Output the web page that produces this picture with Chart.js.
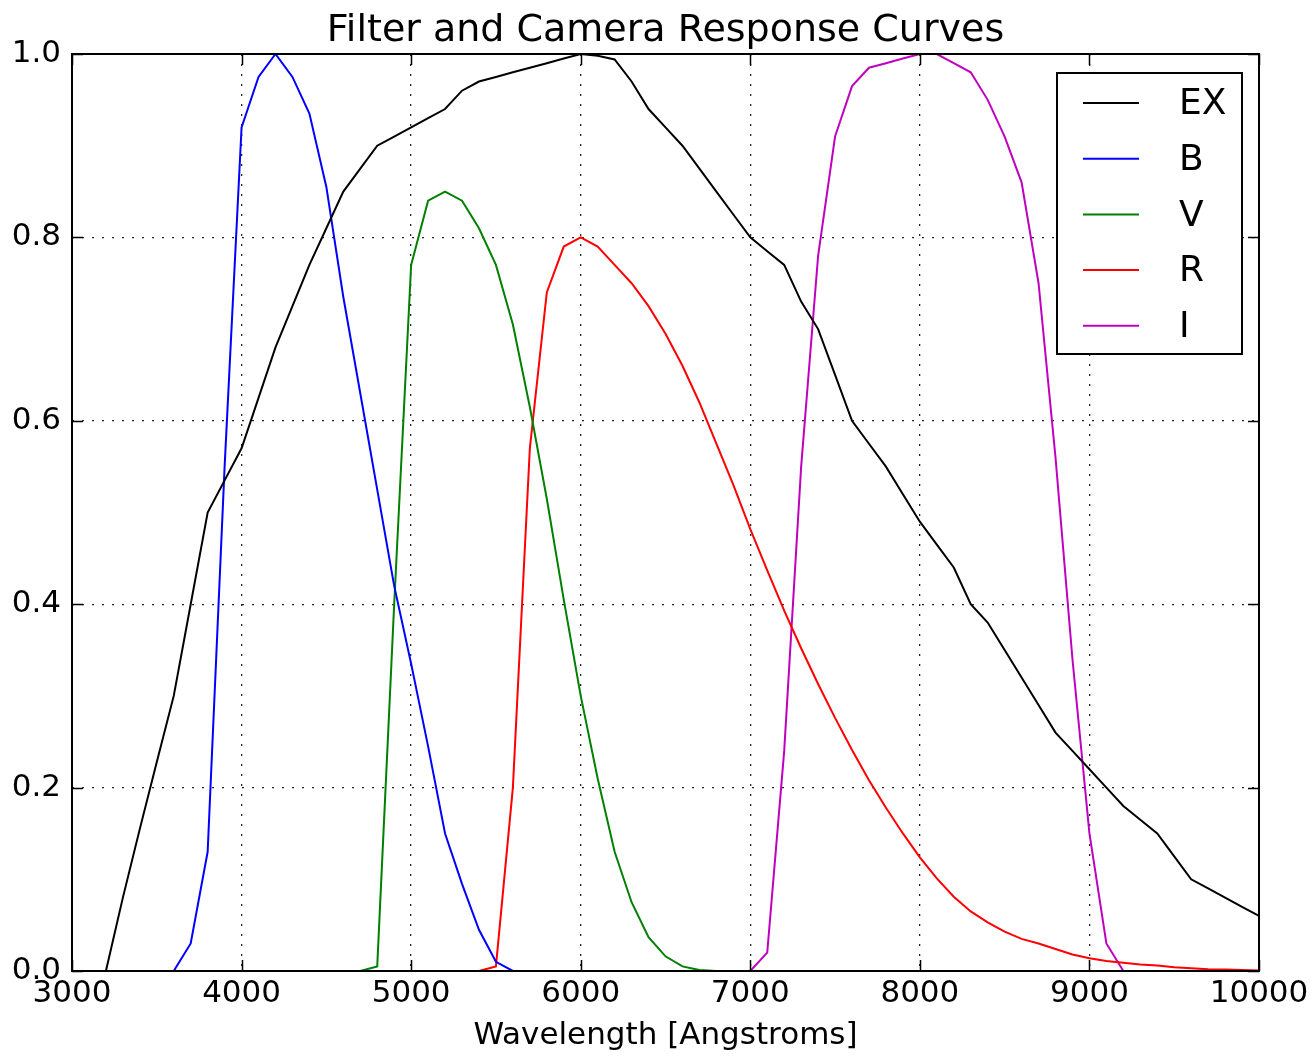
<!DOCTYPE html>
<html><head><meta charset="utf-8">
<script src="https://cdn.jsdelivr.net/npm/chart.js@4/dist/chart.umd.min.js"></script>
<style>html,body{margin:0;padding:0;background:#fff}canvas{display:block}</style>
</head><body>
<canvas id="c" width="1314" height="1056"></canvas>
<script>
// ---- data (wavelength in Angstroms, normalized response) ----
const exWave = [3200,3300,3400,3500,3600,3700,3800,3900,4000,4100,4200,4300,4400,4500,4600,4700,4800,4900,5000,5100,5200,5300,5400,5500,5600,5700,5800,5900,6000,6100,6200,6300,6400,6500,6600,6700,6800,6900,7000,7100,7200,7300,7400,7500,7600,7700,7800,7900,8000,8100,8200,8300,8400,8500,8600,8700,8800,8900,9000,9100,9200,9300,9400,9500,9600,9700,9800,9900,10000];
const exVals = [0,0.08,0.155,0.228,0.30,0.40,0.50,0.535,0.57,0.625,0.68,0.725,0.77,0.81,0.85,0.875,0.90,0.91,0.92,0.93,0.94,0.96,0.97,0.975,0.98,0.985,0.99,0.995,1.0,0.998,0.994,0.97,0.94,0.92,0.90,0.875,0.85,0.825,0.80,0.785,0.77,0.73,0.70,0.65,0.60,0.575,0.55,0.52,0.49,0.465,0.44,0.40,0.38,0.35,0.32,0.29,0.26,0.24,0.22,0.20,0.18,0.165,0.15,0.125,0.10,0.09,0.08,0.07,0.06];

const bWave = [3600,3700,3800,3900,4000,4100,4200,4300,4400,4500,4600,4700,4800,4900,5000,5100,5200,5300,5400,5500,5600];
const bVals = [0,0.03,0.13,0.55,0.92,0.975,1.0,0.975,0.935,0.855,0.735,0.63,0.525,0.42,0.335,0.245,0.15,0.095,0.045,0.01,0];

const vWave = [4700,4800,4900,5000,5100,5200,5300,5400,5500,5600,5700,5800,5900,6000,6100,6200,6300,6400,6500,6600,6700,6800];
const vVals = [0,0.005,0.40,0.77,0.84,0.85,0.84,0.81,0.77,0.705,0.615,0.515,0.405,0.30,0.21,0.13,0.075,0.037,0.016,0.005,0.001,0];

const rWave = [5400,5500,5600,5700,5800,5900,6000,6100,6200,6300,6400,6500,6600,6700,6800,6900,7000,7100,7200,7300,7400,7500,7600,7700,7800,7900,8000,8100,8200,8300,8400,8500,8600,8700,8800,8900,9000,9100,9200,9300,9400,9500,9600,9700,9800,9900,10000];
const rVals = [0,0.005,0.20,0.57,0.74,0.79,0.80,0.79,0.77,0.75,0.725,0.695,0.66,0.62,0.575,0.53,0.482,0.437,0.393,0.352,0.313,0.276,0.241,0.208,0.178,0.15,0.124,0.101,0.081,0.065,0.053,0.043,0.035,0.03,0.024,0.018,0.014,0.011,0.009,0.007,0.006,0.004,0.003,0.002,0.0015,0.001,0.0005];

const iWave = [7000,7100,7200,7300,7400,7500,7600,7700,7800,7900,8000,8100,8200,8300,8400,8500,8600,8700,8800,8900,9000,9100,9200];
const iVals = [0,0.02,0.24,0.55,0.78,0.91,0.965,0.985,0.99,0.995,1.0,1.0,0.99,0.98,0.95,0.91,0.86,0.75,0.56,0.34,0.15,0.03,0];

const seriesNames = ['EX','B','V','R','I'];
const xTicks = [3000,4000,5000,6000,7000,8000,9000,10000];
const yTicks = [0.0,0.2,0.4,0.6,0.8,1.0];
const chartTitle = 'Filter and Camera Response Curves';
const xTitle = 'Wavelength [Angstroms]';

// ---- chart ----
const pts = (w, v) => w.map((x, i) => ({x: x, y: v[i]}));
const colors = ['#000000','#0000ff','#008000','#ff0000','#bf00bf'];
const seriesData = [pts(exWave,exVals), pts(bWave,bVals), pts(vWave,vVals), pts(rWave,rVals), pts(iWave,iVals)];

const FONT = '"DejaVu Sans", "Liberation Sans", sans-serif';

const framePlugin = {
  id: 'frameAndLegend',
  afterDraw(chart) {
    const ctx = chart.ctx;
    const a = chart.chartArea;
    const xs = chart.scales.x, ys = chart.scales.y;
    const o = chart.options.plugins.frameAndLegend;
    ctx.save();
    // title centred over the plot area
    ctx.fillStyle = '#000';
    ctx.font = o.titleSize + 'px ' + FONT;
    ctx.textAlign = 'center';
    ctx.textBaseline = 'alphabetic';
    ctx.fillText(chartTitle, (a.left + a.right) / 2, o.titleBaseline);

    // inward ticks on all four sides
    ctx.strokeStyle = '#000';
    ctx.lineWidth = 1.5;
    const tl = 11;
    xs.ticks.forEach(t => {
      const px = Math.round(xs.getPixelForValue(t.value)) + 0.5;
      ctx.beginPath();
      ctx.moveTo(px, a.bottom); ctx.lineTo(px, a.bottom - tl);
      ctx.moveTo(px, a.top); ctx.lineTo(px, a.top + tl);
      ctx.stroke();
    });
    ys.ticks.forEach(t => {
      const py = Math.round(ys.getPixelForValue(t.value)) + 0.5;
      ctx.beginPath();
      ctx.moveTo(a.left, py); ctx.lineTo(a.left + tl, py);
      ctx.moveTo(a.right, py); ctx.lineTo(a.right - tl, py);
      ctx.stroke();
    });
    // frame
    ctx.lineWidth = 2;
    ctx.strokeRect(a.left, a.top, a.right - a.left, a.bottom - a.top);

    // legend box
    const bx = a.right - o.insetRight - o.width;
    const by = a.top + o.insetTop;
    ctx.fillStyle = '#fff';
    ctx.fillRect(bx, by, o.width, o.height);
    ctx.lineWidth = 2;
    ctx.strokeStyle = '#000';
    ctx.strokeRect(bx, by, o.width, o.height);
    ctx.font = o.fontSize + 'px ' + FONT;
    ctx.textBaseline = 'middle';
    ctx.textAlign = 'left';
    chart.data.datasets.forEach((ds, i) => {
      const ry = by + o.firstRow + i * o.rowGap;
      ctx.strokeStyle = ds.borderColor;
      ctx.lineWidth = 2;
      ctx.beginPath();
      ctx.moveTo(bx + o.lineStart, ry);
      ctx.lineTo(bx + o.lineStart + o.lineLen, ry);
      ctx.stroke();
      ctx.fillStyle = '#000';
      ctx.fillText(ds.label, bx + o.textStart, ry + 2);
    });
    ctx.restore();
  }
};

new Chart(document.getElementById('c'), {
  type: 'line',
  data: {
    datasets: seriesNames.map((n, i) => ({
      label: n,
      data: seriesData[i],
      borderColor: colors[i],
      backgroundColor: colors[i],
      borderWidth: 2,
      pointRadius: 0,
      tension: 0,
      fill: false
    }))
  },
  options: {
    responsive: false,
    animation: false,
    events: [],
    layout: { padding: { left: 0, right: 55, top: 54, bottom: 0 } },
    plugins: {
      legend: { display: false },
      tooltip: { enabled: false },
      title: { display: false },
      frameAndLegend: {
        titleSize: 38, titleBaseline: 41,
        insetRight: 17, insetTop: 19, width: 185, height: 281,
        firstRow: 30, rowGap: 55.7, lineStart: 26, lineLen: 56, textStart: 122, fontSize: 36
      }
    },
    scales: {
      x: {
        type: 'linear',
        min: 3000, max: 10000,
        afterBuildTicks: s => { s.ticks = xTicks.map(v => ({value: v})); },
        afterFit: s => { s.height = 85; },
        ticks: {
          color: '#000',
          font: { family: FONT, size: 31 },
          padding: 4,
          maxRotation: 0,
          autoSkip: false,
          callback: v => String(v)
        },
        grid: { color: 'rgba(0,0,0,0.85)', lineWidth: 1.3, drawTicks: false },
        border: { display: false, dash: [2, 8] },
        title: {
          display: true,
          text: xTitle,
          color: '#000',
          font: { family: FONT, size: 31, lineHeight: 1.2 },
          padding: { top: 0, bottom: 1 }
        }
      },
      y: {
        type: 'linear',
        min: 0, max: 1,
        afterBuildTicks: s => { s.ticks = yTicks.map(v => ({value: v})); },
        afterFit: s => { s.width = 72; },
        ticks: {
          color: '#000',
          font: { family: FONT, size: 31 },
          padding: 11,
          autoSkip: false,
          callback: v => Number(v).toFixed(1)
        },
        grid: { color: 'rgba(0,0,0,0.85)', lineWidth: 1.3, drawTicks: false },
        border: { display: false, dash: [2, 8] }
      }
    }
  },
  plugins: [framePlugin]
});
</script>
</body></html>
